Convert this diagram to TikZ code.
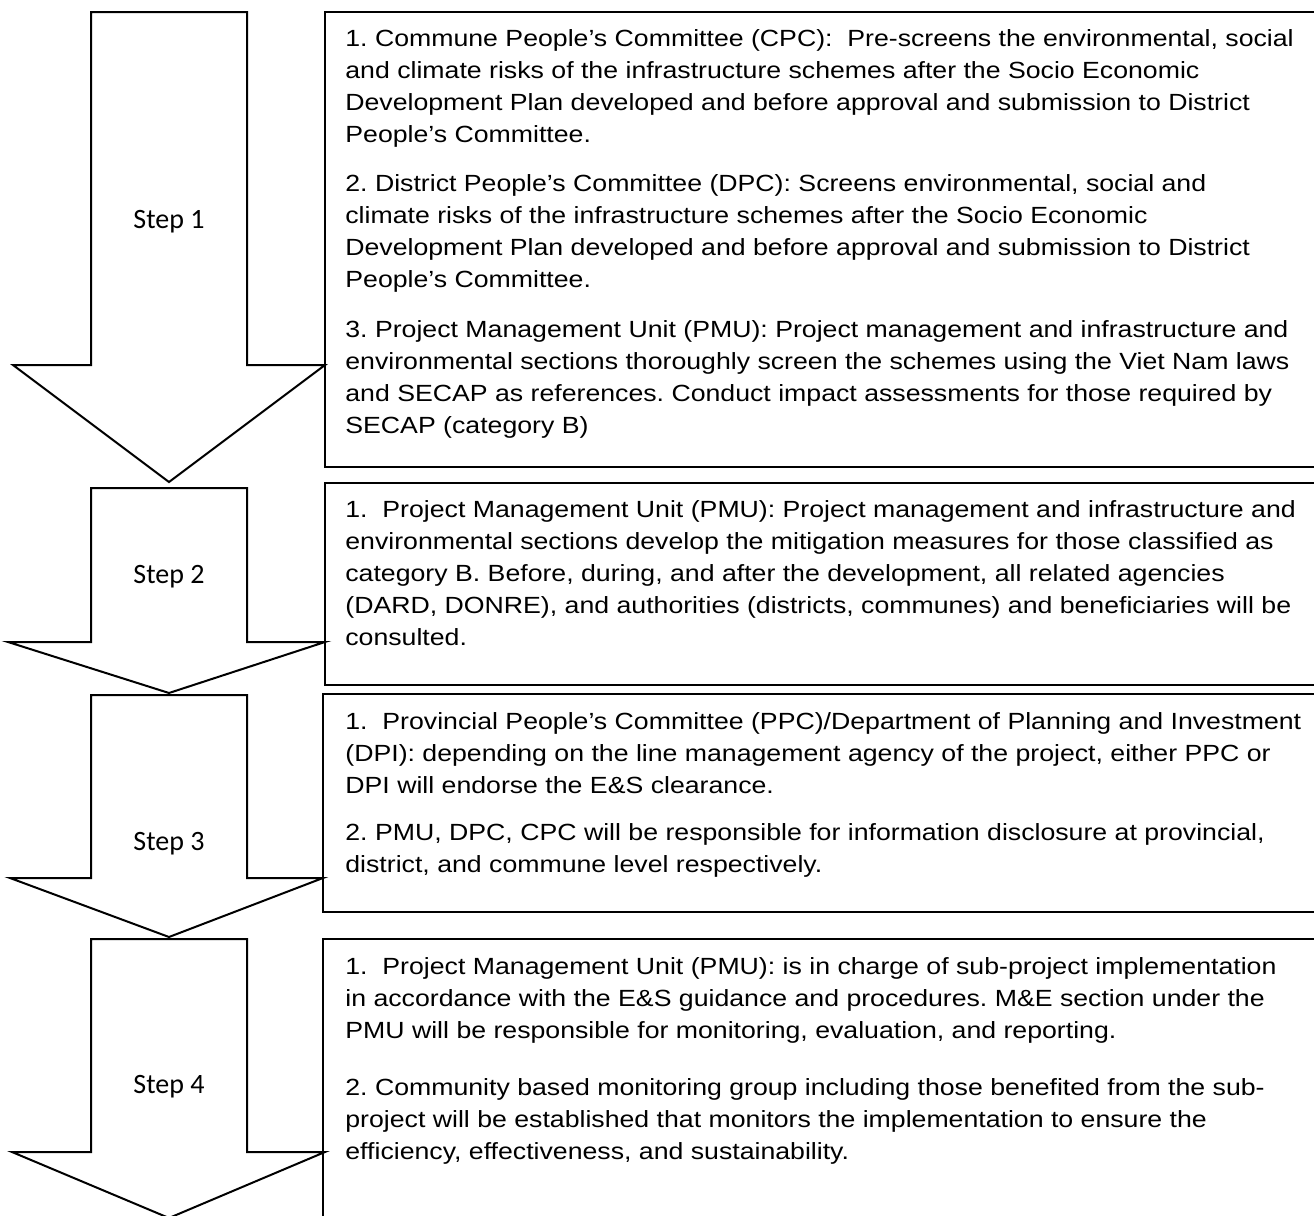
\documentclass[tikz,border=0pt]{standalone}
\usepackage{fontspec}
\setmainfont{Liberation Sans}[FakeStretch=1.14]
\newfontfamily\stepfont{Carlito}

\tikzset{
  outline/.style={draw=black, line width=1pt},
  arrowshape/.style={draw=black, line width=1pt, line join=miter, fill=white},
  steplabel/.style={font=\stepfont\fontsize{14}{16}\selectfont, inner sep=0pt},
  para/.style={inner sep=0pt, anchor=base west},
}
% one paragraph of a step description, line breaks as printed
\newcommand\paratext[1]{\parbox[t]{600pt}{\fontsize{11.7}{16}\selectfont\frenchspacing\raggedright #1}}

\begin{document}
\begin{tikzpicture}[x=0.5pt, y=-0.5pt]
\useasboundingbox (0,0) rectangle (1314,1216);
\clip (0,0) rectangle (1314,1216);
\fill[white] (0,0) rectangle (1314,1216);

% block arrows, one per step
\draw[arrowshape] (91,12) -- (247,12) -- (247,365) -- (325,365) -- (169,482) -- (13,365) -- (91,365) -- cycle;
\draw[arrowshape] (91,488) -- (247,488) -- (247,642) -- (325,642) -- (169,693) -- (8,642) -- (91,642) -- cycle;
\draw[arrowshape] (91,695) -- (247,695) -- (247,878) -- (323,878) -- (169,937) -- (10,878) -- (91,878) -- cycle;
\draw[arrowshape] (91,939) -- (247,939) -- (247,1152) -- (325,1152) -- (169,1218) -- (12,1152) -- (91,1152) -- cycle;

\node[steplabel] (s1) at (169,222) {Step 1};
\node[steplabel] (s2) at (169,577) {Step 2};
\node[steplabel] (s3) at (169,844) {Step 3};
\node[steplabel] (s4) at (169,1087) {Step 4};

% description boxes
\draw[outline] (325,12) rectangle (1340,467);
\draw[outline] (325,483) rectangle (1340,685);
\draw[outline] (323,694) rectangle (1340,912);
\draw[outline] (323,939) rectangle (1340,1240);

% step 1
\node[para] (p11) at (345,46) {\paratext{1. Commune People’s Committee (CPC):~ Pre-screens the environmental, social\\
and climate risks of the infrastructure schemes after the Socio Economic\\
Development Plan developed and before approval and submission to District\\
People’s Committee.}};
\node[para] (p12) at (345,191) {\paratext{2. District People’s Committee (DPC): Screens environmental, social and\\
climate risks of the infrastructure schemes after the Socio Economic\\
Development Plan developed and before approval and submission to District\\
People’s Committee.}};
\node[para] (p13) at (345,337) {\paratext{3. Project Management Unit (PMU): Project management and infrastructure and\\
environmental sections thoroughly screen the schemes using the Viet Nam laws\\
and SECAP as references. Conduct impact assessments for those required by\\
SECAP (category B)}};

% step 2
\node[para] (p21) at (345,517) {\paratext{1.~ Project Management Unit (PMU): Project management and infrastructure and\\
environmental sections develop the mitigation measures for those classified as\\
category B. Before, during, and after the development, all related agencies\\
(DARD, DONRE), and authorities (districts, communes) and beneficiaries will be\\
consulted.}};

% step 3
\node[para] (p31) at (345,729) {\paratext{1.~ Provincial People’s Committee (PPC)/Department of Planning and Investment\\
(DPI): depending on the line management agency of the project, either PPC or\\
DPI will endorse the E\&S clearance.}};
\node[para] (p32) at (345,840) {\paratext{2. PMU, DPC, CPC will be responsible for information disclosure at provincial,\\
district, and commune level respectively.}};

% step 4
\node[para] (p41) at (345,974) {\paratext{1.~ Project Management Unit (PMU): is in charge of sub-project implementation\\
in accordance with the E\&S guidance and procedures. M\&E section under the\\
PMU will be responsible for monitoring, evaluation, and reporting.}};
\node[para] (p42) at (345,1095) {\paratext{2. Community based monitoring group including those benefited from the sub-\\
project will be established that monitors the implementation to ensure the\\
efficiency, effectiveness, and sustainability.}};
\end{tikzpicture}
\end{document}
